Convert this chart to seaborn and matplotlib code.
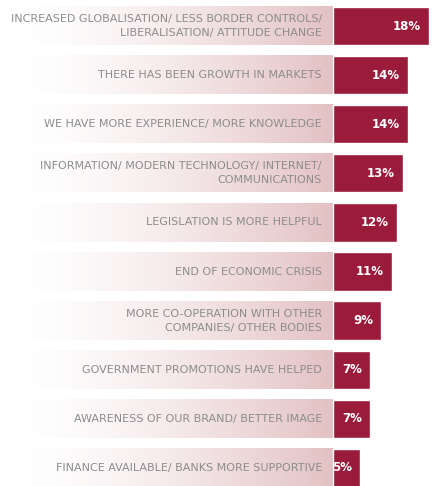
import numpy as np
import pandas as pd
import matplotlib
matplotlib.use("Agg")
import matplotlib.pyplot as plt
import seaborn as sns

# Reasons cited, with the share of respondents giving each
categories = [
    "INCREASED GLOBALISATION/ LESS BORDER CONTROLS/\nLIBERALISATION/ ATTITUDE CHANGE",
    "THERE HAS BEEN GROWTH IN MARKETS",
    "WE HAVE MORE EXPERIENCE/ MORE KNOWLEDGE",
    "INFORMATION/ MODERN TECHNOLOGY/ INTERNET/\nCOMMUNICATIONS",
    "LEGISLATION IS MORE HELPFUL",
    "END OF ECONOMIC CRISIS",
    "MORE CO-OPERATION WITH OTHER\nCOMPANIES/ OTHER BODIES",
    "GOVERNMENT PROMOTIONS HAVE HELPED",
    "AWARENESS OF OUR BRAND/ BETTER IMAGE",
    "FINANCE AVAILABLE/ BANKS MORE SUPPORTIVE",
]
values = [18, 14, 14, 13, 12, 11, 9, 7, 7, 5]

df = pd.DataFrame({"reason": categories, "pct": values})

BAR = "#9b1b3b"
BAND = np.array([224, 186, 188]) / 255
TEXT = "#8c8c8c"

sns.set_theme(style="white")
plt.rcParams["font.family"] = ["DejaVu Sans"]

W, H = 438, 486
fig = plt.figure(figsize=(W / 100, H / 100), dpi=100)
ax = fig.add_axes([0, 0, 1, 1])

sns.barplot(data=df, x="pct", y="reason", orient="h", color=BAR,
            width=0.78, saturation=1, ax=ax, zorder=3)

# horizontal scale: bars start at 333 px, 5.35 px per percentage point
s = 5.35
x0 = 333
ax.set_xlim(-x0 / s, (W - x0) / s)
# vertical scale: rows centred every ~49 px starting at 26 px
row = 49.1
top = 26
ax.set_ylim((H - top) / row, -top / row)

# fading band behind each label
ramp = np.linspace(0, 1, 256) ** 1.5
grad = np.zeros((1, 256, 4))
grad[..., :3] = BAND
grad[..., 3] = ramp * 0.9
band_left = (15 - x0) / s
for i in range(len(categories)):
    ax.imshow(grad, extent=(band_left, 0, i + 0.39, i - 0.39),
              aspect="auto", interpolation="bilinear", zorder=1)

# labels to the left of each bar, value inside the bar
for i, (lab, v) in enumerate(zip(categories, values)):
    ax.text(-11 / s, i, lab, ha="right", va="center", multialignment="right",
            fontsize=8.0, color=TEXT, linespacing=1.5, zorder=4)
    ax.text(v - 1.5, i, f"{v}%", ha="right", va="center",
            fontsize=8.5, fontweight="bold", color="white", zorder=4)

ax.set_xlabel("")
ax.set_ylabel("")
ax.set_xticks([])
ax.set_yticks([])
for sp in ax.spines.values():
    sp.set_visible(False)

fig.savefig("out.png", dpi=100, facecolor="white")
